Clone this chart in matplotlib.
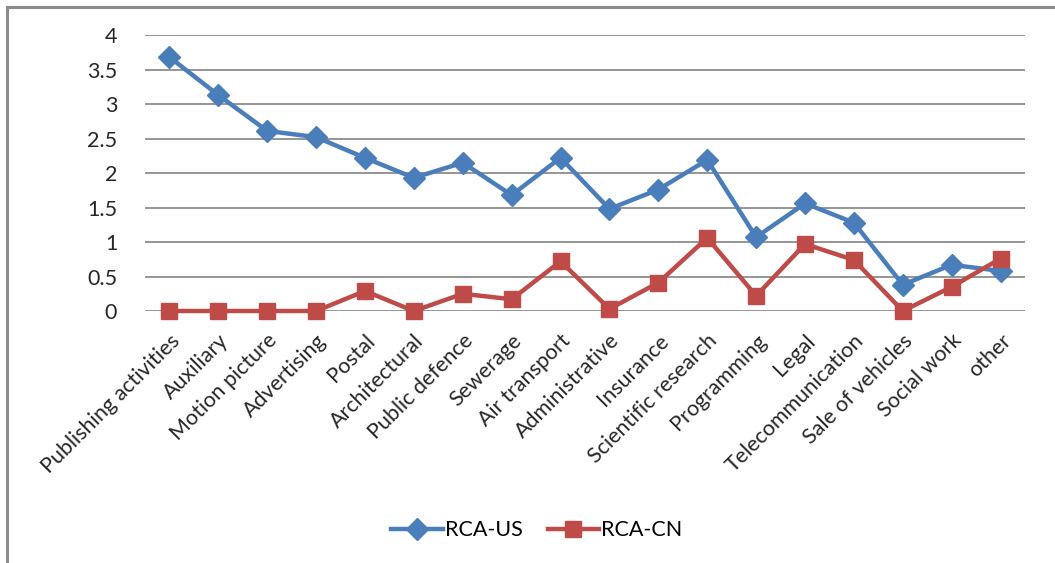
import matplotlib.pyplot as plt
from matplotlib.lines import Line2D

plt.rcParams['font.family'] = ['Lato', 'DejaVu Sans']

# secteurs et valeurs RCA
secteurs = ["Publishing activities", "Auxiliary", "Motion picture", "Advertising",
            "Postal", "Architectural", "Public defence", "Sewerage", "Air transport",
            "Administrative", "Insurance", "Scientific research", "Programming",
            "Legal", "Telecommunication", "Sale of vehicles", "Social work", "other"]
rca_us = [3.68, 3.13, 2.61, 2.52, 2.22, 1.93, 2.15, 1.68, 2.22,
          1.48, 1.76, 2.19, 1.07, 1.56, 1.28, 0.38, 0.67, 0.58]
rca_cn = [0.0, 0.0, 0.0, 0.0, 0.29, 0.0, 0.25, 0.17, 0.72,
          0.03, 0.41, 1.06, 0.22, 0.97, 0.74, 0.0, 0.35, 0.76]
yticks = [0, 0.5, 1, 1.5, 2, 2.5, 3, 3.5, 4]
ytick_labels = ["0", "0.5", "1", "1.5", "2", "2.5", "3", "3.5", "4"]

fig = plt.figure(figsize=(10.55, 5.63), dpi=100)
ax = fig.add_axes([0.1374, 0.4476, 0.8342, 0.4902])

x = list(range(len(secteurs)))
ax.plot(x, rca_us, color='#4A7EBB', lw=3.2, marker='D', ms=11, label='RCA-US', zorder=3)
ax.plot(x, rca_cn, color='#BE4B48', lw=3.2, marker='s', ms=12, label='RCA-CN', zorder=3)

ax.set_xlim(-0.5, len(secteurs) - 0.5)
ax.set_ylim(0, 4)
ax.set_yticks(yticks)
ax.set_yticklabels(ytick_labels, fontsize=15.5, color='#262626')
ax.set_xticks(x)
ax.set_xticklabels(secteurs, rotation=45, ha='right', rotation_mode='anchor',
                   fontsize=15.5, color='#262626')
ax.tick_params(axis='both', length=0)
ax.tick_params(axis='y', pad=20)
ax.tick_params(axis='x', pad=14)
ax.grid(axis='y', color='#8C8C8C', lw=1.3)
ax.set_axisbelow(True)
for s in ax.spines.values():
    s.set_visible(False)
for l in ax.get_lines():
    l.set_clip_on(False)

fig.legend(loc='center', bbox_to_anchor=(0.509, 0.058), ncol=2, frameon=False,
           fontsize=15.5, handlelength=2.4, columnspacing=1.15, handletextpad=0.1)

# cadre gris autour du graphique
fig.add_artist(Line2D([0.0066, 0.0066], [0, 0.9876], color='#8C8C8C', lw=2.2,
                      transform=fig.transFigure))
fig.add_artist(Line2D([0.0066, 1.0], [0.9876, 0.9876], color='#8C8C8C', lw=2.2,
                      transform=fig.transFigure))

fig.savefig('out.png', dpi=100)
